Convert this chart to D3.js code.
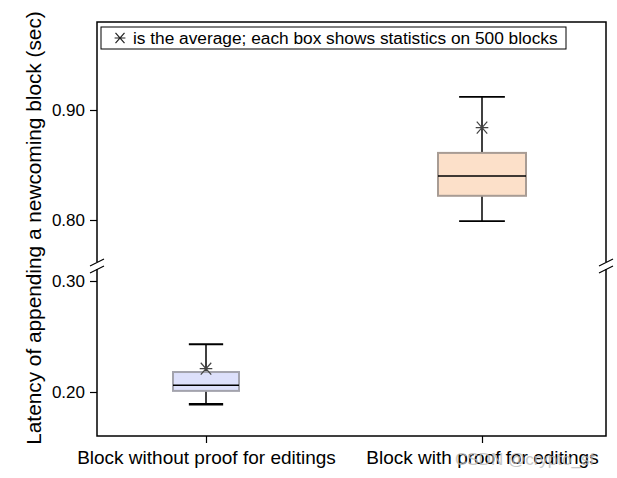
<!DOCTYPE html>
<html>
<head>
<meta charset="utf-8">
<script src="https://cdn.jsdelivr.net/npm/d3@7"></script>
<style>
  body { margin: 0; background: #fff; }
  text { font-family: "Liberation Sans", Arial, sans-serif; }
</style>
</head>
<body>
<script>
const categories = ["Block without proof for editings", "Block with proof for editings"]
const whiskerLow = [0.189, 0.799]
const q1 = [0.201, 0.822]
const median = [0.206, 0.840]
const q3 = [0.218, 0.861]
const whiskerHigh = [0.243, 0.912]
const mean = [0.221, 0.884]
const upperTicks = [0.80, 0.90]
const lowerTicks = [0.20, 0.30]

const boxFill = ["#dde0fb", "#fce0c9"]
const boxStroke = ["#a3a3ad", "#a89c94"]
const boxWidth = [66, 88]

const width = 617, height = 478
const frame = { left: 97, right: 606, top: 22, bottom: 436 }
const breakY = 266

const svg = d3.select("body")
    .append("svg")
    .attr("width", width)
    .attr("height", height)

// two y scales joined at the axis break
const yTop = d3.scaleLinear().domain([0.80, 0.90]).range([220, 110])
const yBot = d3.scaleLinear().domain([0.20, 0.30]).range([392, 281])
const cut = (yTop.invert(breakY) + yBot.invert(breakY)) / 2
const y = v => v > cut ? yTop(v) : yBot(v)

const x = d3.scalePoint().domain(categories).range([206, 482])

// frame
svg.append("rect")
    .attr("x", frame.left)
    .attr("y", frame.top)
    .attr("width", frame.right - frame.left)
    .attr("height", frame.bottom - frame.top)
    .attr("fill", "none")
    .attr("stroke", "#000")
    .attr("stroke-width", 1.5)

function yAxis(scale, ticks) {
    const g = svg.append("g")
        .attr("transform", "translate(" + frame.left + ",0)")
        .call(d3.axisLeft(scale).tickValues(ticks).tickFormat(d3.format(".2f")).tickSize(7).tickPadding(5))
    g.select(".domain").remove()
    g.selectAll("line").attr("stroke-width", 1.2)
    g.selectAll("text").attr("font-size", 17).attr("fill", "#000")
        .style("font-family", "Liberation Sans, Arial, sans-serif")
}
yAxis(yTop, upperTicks)
yAxis(yBot, lowerTicks)

const xAxis = svg.append("g")
    .attr("transform", "translate(0," + frame.bottom + ")")
    .call(d3.axisBottom(x).tickSize(7).tickPadding(8).tickSizeOuter(0))
xAxis.select(".domain").remove()
xAxis.selectAll("line").attr("stroke-width", 1.2)
xAxis.selectAll("text").attr("font-size", 19).attr("fill", "#000")
    .style("font-family", "Liberation Sans, Arial, sans-serif")

// break marks on both vertical edges
;[frame.left, frame.right].forEach(function (bx) {
    svg.append("rect")
        .attr("x", bx - 3).attr("y", breakY - 4)
        .attr("width", 6).attr("height", 7)
        .attr("fill", "#fff")
    ;[-3.5, 3.5].forEach(function (dy) {
        svg.append("line")
            .attr("x1", bx - 7).attr("y1", breakY + dy + 3.5)
            .attr("x2", bx + 7).attr("y2", breakY + dy - 3.5)
            .attr("stroke", "#000").attr("stroke-width", 1.2)
    })
})

// boxes
const box = svg.selectAll(".box")
    .data(categories)
    .enter()
    .append("g")
    .attr("class", "box")

box.append("line")
    .attr("x1", d => x(d)).attr("x2", d => x(d))
    .attr("y1", (d, i) => y(whiskerHigh[i]))
    .attr("y2", (d, i) => y(q3[i]))
    .attr("stroke", "#000").attr("stroke-width", 1.5)

box.append("line")
    .attr("x1", d => x(d)).attr("x2", d => x(d))
    .attr("y1", (d, i) => y(q1[i]))
    .attr("y2", (d, i) => y(whiskerLow[i]))
    .attr("stroke", "#000").attr("stroke-width", 1.5)

box.append("rect")
    .attr("x", (d, i) => x(d) - boxWidth[i] / 2)
    .attr("y", (d, i) => y(q3[i]))
    .attr("width", (d, i) => boxWidth[i])
    .attr("height", (d, i) => y(q1[i]) - y(q3[i]))
    .attr("fill", (d, i) => boxFill[i])
    .attr("stroke", (d, i) => boxStroke[i])
    .attr("stroke-width", 2)

box.append("line")
    .attr("x1", (d, i) => x(d) - boxWidth[i] / 2)
    .attr("x2", (d, i) => x(d) + boxWidth[i] / 2)
    .attr("y1", (d, i) => y(median[i]))
    .attr("y2", (d, i) => y(median[i]))
    .attr("stroke", "#000").attr("stroke-width", 1.5)

// whisker caps
;[whiskerHigh, whiskerLow].forEach(function (arr, k) {
    box.append("line")
        .attr("x1", (d, i) => x(d) - boxWidth[i] * 0.26)
        .attr("x2", (d, i) => x(d) + boxWidth[i] * 0.26)
        .attr("y1", (d, i) => y(arr[i]))
        .attr("y2", (d, i) => y(arr[i]))
        .attr("stroke", "#000").attr("stroke-width", (d, i) => k === 1 && i === 0 ? 2.6 : 1.8)
})

// asterisk marker for the mean
function asterisk(g, cx, cy, r, color) {
    const p = "M" + (cx - r * 0.9) + "," + cy + "H" + (cx + r * 0.9) +
        "M" + (cx - r * 0.75) + "," + (cy - r * 0.85) + "L" + (cx + r * 0.75) + "," + (cy + r * 0.85) +
        "M" + (cx - r * 0.75) + "," + (cy + r * 0.85) + "L" + (cx + r * 0.75) + "," + (cy - r * 0.85)
    g.append("path").attr("d", p).attr("stroke", color).attr("stroke-width", 1.2).attr("fill", "none")
}
box.each(function (d, i) {
    asterisk(d3.select(this), x(d), y(mean[i]), 7, "#444")
})

// legend
const legend = svg.append("g")
legend.append("rect")
    .attr("x", 101).attr("y", 27)
    .attr("width", 465).attr("height", 22)
    .attr("fill", "#fff").attr("stroke", "#000").attr("stroke-width", 1)
asterisk(legend, 120, 38, 6, "#222")
legend.append("text")
    .attr("x", 133).attr("y", 44)
    .attr("font-size", 17.3)
    .text("is the average; each box shows statistics on 500 blocks")

// y label
svg.append("text")
    .attr("transform", "translate(41," + 228 + ") rotate(-90)")
    .attr("text-anchor", "middle")
    .attr("font-size", 20.8)
    .text("Latency of appending a newcoming block (sec)")

// watermark
svg.append("text")
    .attr("x", 455).attr("y", 465)
    .attr("font-size", 17)
    .attr("fill", "#bbb")
    .attr("opacity", 0.8)
    .text("CSDN @crypto_sf")
</script>
</body>
</html>
